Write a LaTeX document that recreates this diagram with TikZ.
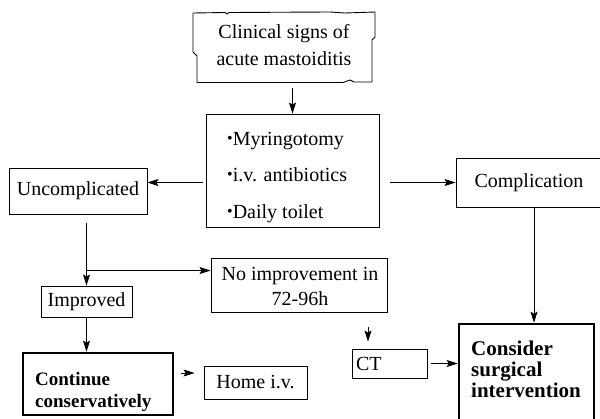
\documentclass[tikz,border=0pt]{standalone}
\usepackage{fontspec}
\setmainfont{Liberation Serif}
\usetikzlibrary{arrows.meta,calc}
\newcommand{\bul}{\raisebox{0.12ex}{\fontsize{16}{16}\selectfont •}}
\begin{document}
\begin{tikzpicture}[x=1pt,y=-1pt,
  box/.style={draw, line width=0.9pt, inner sep=0pt, font=\fontsize{20}{24}\selectfont},
  thickbox/.style={draw, line width=2.6pt, inner sep=0pt},
  txt/.style={inner sep=0pt, font=\fontsize{20}{24}\selectfont},
  btxt/.style={inner sep=0pt, anchor=base west},
  arr/.style={line width=0.9pt, -{Stealth[length=11pt,width=7pt,inset=2pt]}},
]
\fill[white] (0,0) rectangle (600,418);
\useasboundingbox (0,0) rectangle (600,418);

% torn-paper box (drawn directly)
\draw[line width=0.9pt, line join=round]
  (193,13) -- (225,12.5) -- (227,14) -- (229,12.5) -- (330,12) -- (345,13) -- (375,12)
  -- (375,37) -- (372,40) -- (372,82) -- (354,82) -- (350,80) -- (343,82.5) -- (197,82.5)
  -- (197,56) -- (193,52) -- cycle;
\node[inner sep=0pt, minimum width=182pt, minimum height=70pt] (topbox) at (284,47) {};
\node[txt, anchor=base] (t1) at (284,38.5) {Clinical signs of};
\node[txt, anchor=base] (t2) at (284,65.5) {acute mastoiditis};

% treatment box
\node[box, minimum width=173pt, minimum height=113pt] (mid) at (292.5,170.5) {};
\node[txt, btxt] (m1) at (227,145) {\bul Myringotomy};
\node[txt, btxt] (m2) at (227,181) {\bul i.v. antibiotics};
\node[txt, btxt] (m3) at (227,218) {\bul Daily toilet};

\node[box, minimum width=138pt, minimum height=46pt] (unc) at (78,191) {Uncomplicated};
\node[box, minimum width=146pt, minimum height=49pt] (comp) at (529,182.5) {Complication};

\node[box, minimum width=176pt, minimum height=54pt] (noimp) at (299,285) {};
\node[txt, anchor=base] (n1) at (300,280.5) {No improvement in};
\node[txt, anchor=base] (n2) at (300,305.5) {72-96h};

\node[box, minimum width=91pt, minimum height=31pt] (imp) at (86.5,301.5) {Improved};

\node[thickbox, minimum width=150pt, minimum height=62pt] (cont) at (98,384) {};
\node[btxt, font=\fontsize{19}{22}\selectfont\bfseries] (c1) at (35,385) {Continue};
\node[btxt, font=\fontsize{19}{22}\selectfont\bfseries] (c2) at (35,407) {conservatively};

\node[box, minimum width=103pt, minimum height=33pt] (home) at (255.5,382.5) {Home i.v.};

\node[box, minimum width=75pt, minimum height=29pt, text width=67pt, align=left, inner xsep=4pt] (ct) at (389.5,363.5) {CT};

\node[thickbox, minimum width=135pt, minimum height=96pt] (cons) at (526.5,372) {};
\node[btxt, font=\fontsize{21}{21}\selectfont\bfseries] (s1) at (471,355) {Consider};
\node[btxt, font=\fontsize{21}{21}\selectfont\bfseries] (s2) at (471,376) {surgical};
\node[btxt, font=\fontsize{21}{21}\selectfont\bfseries] (s3) at (471,397) {intervention};

% connectors
\draw[arr] ($(topbox.south -| mid.north)+(0,6)$) -- (mid.north);
\draw[arr] ($(mid.west |- comp.west)+(-3,0)$) -- (unc.east |- comp.west);
\draw[arr] ($(mid.east |- comp.west)+(11,0)$) -- (comp.west);
\draw[arr] ($(unc.south -| imp.north)+(0,9)$) -- (imp.north);
\coordinate (br) at ($(imp.north)+(0,-15)$);
\draw[arr] (br) -- (br -| noimp.west);
\draw[arr] ($(noimp.south)+(69,15)$) -- ($(ct.north)+(-21.5,-7)$);
\draw[arr] ($(ct.east)+(4,0)$) -- (ct.east -| cons.west);
\draw[arr] ($(comp.south)+(5,0)$) -- ($(cons.north)+(7.5,0)$);
\draw[arr] (imp.south) -- (imp.south |- cont.north);
\draw[arr] ($(cont.east)+(7,-11)$) -- ($(home.west)+(-9,-9.5)$);
\end{tikzpicture}
\end{document}
